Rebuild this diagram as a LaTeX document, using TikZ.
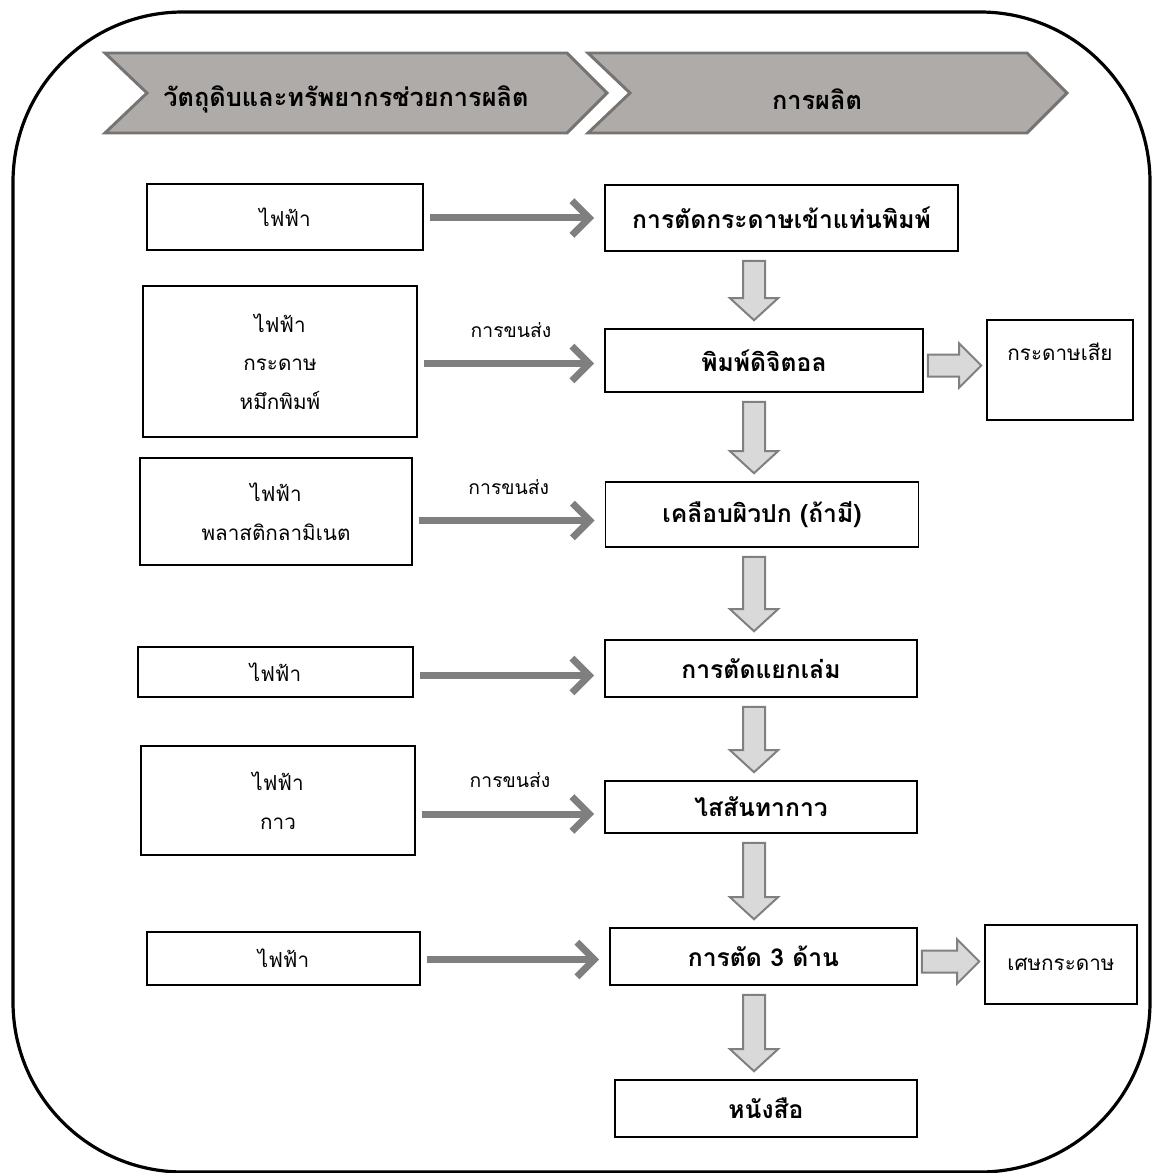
\documentclass[tikz,border=0pt]{standalone}
\usepackage{fontspec}
\newfontfamily\thai[Script=Thai]{Loma}
\usetikzlibrary{arrows.meta,calc}
\definecolor{chevfill}{RGB}{175,171,169}
\definecolor{chevline}{RGB}{118,116,115}
\definecolor{arrgray}{RGB}{127,127,127}
\definecolor{blkfill}{RGB}{217,217,217}
\definecolor{blkline}{RGB}{128,128,128}
\newcommand\blkdown[2]{%
  \draw[blk] ($(#1.south -| ax)+(-11,9)$) -- ($(#2.north -| ax)+(-11,-30)$)
    -- ($(#2.north -| ax)+(-24,-30)$) -- ($(#2.north -| ax)+(0,-8)$)
    -- ($(#2.north -| ax)+(24,-30)$) -- ($(#2.north -| ax)+(11,-30)$)
    -- ($(#1.south -| ax)+(11,9)$) -- cycle;}
\newcommand\blkright[2]{%
  \draw[blk] ($(#1.east)+(4,-6)$) -- ($(#2.west |- #1.east)+(-27,-6)$)
    -- ($(#2.west |- #1.east)+(-27,-17)$) -- ($(#2.west |- #1.east)+(-5,5)$)
    -- ($(#2.west |- #1.east)+(-27,27)$) -- ($(#2.west |- #1.east)+(-27,16)$)
    -- ($(#1.east)+(4,16)$) -- cycle;}
\begin{document}
\begin{tikzpicture}[x=0.75pt,y=-0.75pt,
  box/.style={draw,line width=1.2pt,inner sep=0pt,align=center,
    font=\thai\fontsize{15.5}{29}\selectfont},
  mbox/.style={box,font=\thai\bfseries\fontsize{18.5}{22}\selectfont},
  sz/.style 2 args={minimum width=#1*0.75pt,minimum height=#2*0.75pt},
  chev/.style={fill=chevfill,draw=chevline,line width=2.2pt,line join=miter},
  htext/.style={font=\thai\bfseries\fontsize{19}{22}\selectfont,inner sep=0pt},
  harr/.style={draw=arrgray,line width=5.25pt,
    -{Straight Barb[length=13pt,width=26pt]},shorten <=5pt,shorten >=7.5pt},
  blk/.style={fill=blkfill,draw=blkline,line width=1.5pt,line join=miter},
  lbl/.style={font=\thai\fontsize{14.5}{16}\selectfont,inner sep=0pt}]
\useasboundingbox (0,0) rectangle (1156,1173);
\fill[white] (0,0) rectangle (1156,1173);
% outer frame
\draw[line width=2.4pt,rounded corners=127.5pt] (13,12) rectangle (1150,1172);
% header chevrons
\draw[chev] (105,53) -- (567,53) -- (607,93) -- (567,133) -- (105,133) -- (147,93) -- cycle;
\draw[chev] (588,53) -- (1027,53) -- (1067,93) -- (1027,133) -- (588,133) -- (630,93) -- cycle;
\node[htext] (h1) at (346,99) {วัตถุดิบและทรัพยากรช่วยการผลิต};
\node[htext] (h2) at (817,99) {การผลิต};
% left boxes
\node[box,sz={276}{66}] (l1) at (285,217) {ไฟฟ้า};
\node[box,sz={274}{151}] (l2) at (280,361.5) {ไฟฟ้า\\กระดาษ\\หมึกพิมพ์};
\node[box,sz={272}{107}] (l3) at (276,511.5) {ไฟฟ้า\\พลาสติกลามิเนต};
\node[box,sz={275}{50}] (l4) at (275.5,672) {ไฟฟ้า};
\node[box,sz={274}{109}] (l5) at (278,800.5) {ไฟฟ้า\\กาว};
\node[box,sz={273}{53}] (l6) at (283.5,958.5) {ไฟฟ้า};
% middle boxes
\node[mbox,sz={353}{66}] (m1) at (781.5,218) {การตัดกระดาษเข้าแท่นพิมพ์};
\node[mbox,sz={318}{63}] (m2) at (764,360.5) {พิมพ์ดิจิตอล};
\node[mbox,sz={313}{65}] (m3) at (762,514.5) {เคลือบผิวปก (ถ้ามี)};
\node[mbox,sz={312}{57}] (m4) at (761,668.5) {การตัดแยกเล่ม};
\node[mbox,sz={312}{52}] (m5) at (761,807) {ไสสันทากาว};
\node[mbox,sz={307}{57}] (m6) at (763.5,956.5) {การตัด 3 ด้าน};
\node[mbox,sz={302}{57}] (m7) at (766,1108.5) {หนังสือ};
% right boxes
\node[box,sz={146}{100},label={[box,draw=none,anchor=north,yshift=-17pt]north:กระดาษเสีย}] (r1) at (1060,370) {};
\node[box,sz={152}{79}] (r2) at (1061,964.5) {เศษกระดาษ};
% horizontal arrows
\coordinate (ax) at (754,0);
\draw[harr] (l1.east |- m1.west) -- (m1.west);
\draw[harr] ($(l2.east |- m2.west)+(0,3)$) -- ($(m2.west)+(0,3)$)
  node[lbl,midway,above=17pt] {การขนส่ง};
\draw[harr] ($(l3.east |- m3.west)+(0,6)$) -- ($(m3.west)+(0,6)$)
  node[lbl,midway,above=17pt] {การขนส่ง};
\draw[harr] ($(l4.east |- m4.west)+(0,7)$) -- ($(m4.west)+(0,7)$);
\draw[harr] ($(l5.east |- m5.west)+(0,7)$) -- ($(m5.west)+(0,7)$)
  node[lbl,midway,above=17pt] {การขนส่ง};
\draw[harr] ($(l6.east |- m6.west)+(0,3)$) -- ($(m6.west)+(0,3)$);
% block arrows
\blkdown{m1}{m2}
\blkdown{m2}{m3}
\blkdown{m3}{m4}
\blkdown{m4}{m5}
\blkdown{m5}{m6}
\blkdown{m6}{m7}
\blkright{m2}{r1}
\blkright{m6}{r2}
\end{tikzpicture}
\end{document}
